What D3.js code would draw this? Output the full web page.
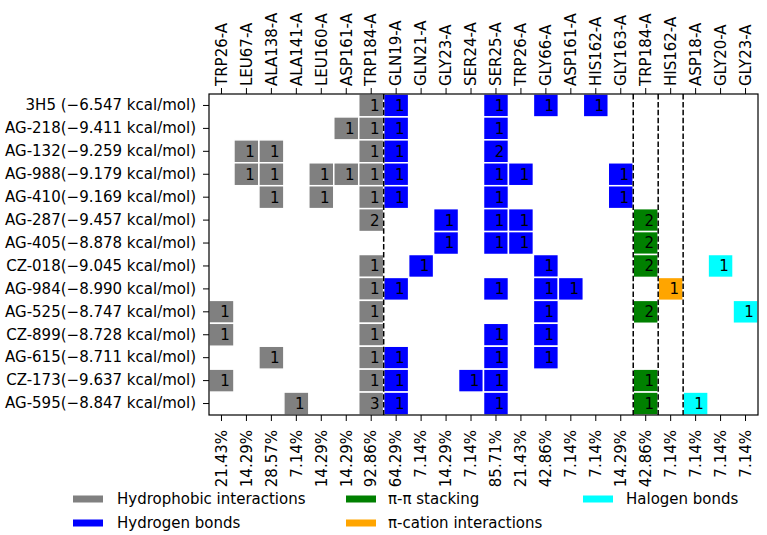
<!DOCTYPE html>
<html>
<head>
<meta charset="utf-8">
<script src="https://cdn.jsdelivr.net/npm/d3@7"></script>
<style>
  body { margin: 0; background: #fff; }
  svg text { font-family: "DejaVu Sans", sans-serif; fill: #000; }
</style>
</head>
<body>
<svg id="chart" width="767" height="535"></svg>
<script>
// residues (columns) and the interaction type of each column
const residues = [
  "TRP26-A", "LEU67-A", "ALA138-A", "ALA141-A", "LEU160-A", "ASP161-A", "TRP184-A",
  "GLN19-A", "GLN21-A", "GLY23-A", "SER24-A", "SER25-A", "TRP26-A", "GLY66-A", "ASP161-A", "HIS162-A", "GLY163-A",
  "TRP184-A", "HIS162-A", "ASP18-A", "GLY20-A", "GLY23-A"
];
const colTypes = [
  "hyd", "hyd", "hyd", "hyd", "hyd", "hyd", "hyd",
  "hb", "hb", "hb", "hb", "hb", "hb", "hb", "hb", "hb", "hb",
  "pipi", "pication", "hal", "hal", "hal"
];
const percents = [
  "21.43%", "14.29%", "28.57%", "7.14%", "14.29%", "14.29%", "92.86%",
  "64.29%", "7.14%", "14.29%", "7.14%", "85.71%", "21.43%", "42.86%", "7.14%", "7.14%", "14.29%",
  "42.86%", "7.14%", "7.14%", "7.14%", "7.14%"
];
const ligands = [
  "3H5 (\u22126.547 kcal/mol)", "AG-218(\u22129.411 kcal/mol)", "AG-132(\u22129.259 kcal/mol)",
  "AG-988(\u22129.179 kcal/mol)", "AG-410(\u22129.169 kcal/mol)", "AG-287(\u22129.457 kcal/mol)",
  "AG-405(\u22128.878 kcal/mol)", "CZ-018(\u22129.045 kcal/mol)", "AG-984(\u22128.990 kcal/mol)",
  "AG-525(\u22128.747 kcal/mol)", "CZ-899(\u22128.728 kcal/mol)", "AG-615(\u22128.711 kcal/mol)",
  "CZ-173(\u22129.637 kcal/mol)", "AG-595(\u22128.847 kcal/mol)"
];
// interaction counts, one row per ligand, one value per residue column
const counts = [
  [0,0,0,0,0,0,1, 1,0,0,0,1,0,1,0,1,0, 0,0, 0,0,0],
  [0,0,0,0,0,1,1, 1,0,0,0,1,0,0,0,0,0, 0,0, 0,0,0],
  [0,1,1,0,0,0,1, 1,0,0,0,2,0,0,0,0,0, 0,0, 0,0,0],
  [0,1,1,0,1,1,1, 1,0,0,0,1,1,0,0,0,1, 0,0, 0,0,0],
  [0,0,1,0,1,0,1, 1,0,0,0,1,0,0,0,0,1, 0,0, 0,0,0],
  [0,0,0,0,0,0,2, 0,0,1,0,1,1,0,0,0,0, 2,0, 0,0,0],
  [0,0,0,0,0,0,0, 0,0,1,0,1,1,0,0,0,0, 2,0, 0,0,0],
  [0,0,0,0,0,0,1, 0,1,0,0,0,0,1,0,0,0, 2,0, 0,1,0],
  [0,0,0,0,0,0,1, 1,0,0,0,1,0,1,1,0,0, 0,1, 0,0,0],
  [1,0,0,0,0,0,1, 0,0,0,0,0,0,1,0,0,0, 2,0, 0,0,1],
  [1,0,0,0,0,0,1, 0,0,0,0,1,0,1,0,0,0, 0,0, 0,0,0],
  [0,0,1,0,0,0,1, 1,0,0,0,1,0,1,0,0,0, 0,0, 0,0,0],
  [1,0,0,0,0,0,1, 1,0,0,1,1,0,0,0,0,0, 1,0, 0,0,0],
  [0,0,0,1,0,0,3, 1,0,0,0,1,0,0,0,0,0, 1,0, 1,0,0]
];
const typeKeys = ["hyd", "hb", "pipi", "pication", "hal"];
const typeNames = ["Hydrophobic interactions", "Hydrogen bonds", "\u03c0-\u03c0 stacking", "\u03c0-cation interactions", "Halogen bonds"];
const typeColors = ["#808080", "#0000ff", "#008000", "#ffa500", "#00ffff"];

const svg = d3.select("#chart");
const plot = { left: 209, right: 758, top: 94, bottom: 415 };
const fontSize = 15;

const color = d3.scaleOrdinal().domain(typeKeys).range(typeColors);
const x = d3.scaleBand().domain(d3.range(residues.length)).range([plot.left, plot.right]);
const y = d3.scaleBand().domain(d3.range(ligands.length)).range([plot.top, plot.bottom]);

const cells = [];
counts.forEach((row, r) => row.forEach((v, c) => {
  if (v > 0) cells.push({ r, c, v, type: colTypes[c] });
}));

// cells
const g = svg.append("g");
g.selectAll("rect.cell").data(cells).enter().append("rect")
  .attr("class", "cell")
  .attr("x", d => x(d.c))
  .attr("y", d => y(d.r))
  .attr("width", x.bandwidth())
  .attr("height", y.bandwidth())
  .attr("fill", d => color(d.type))
  .attr("stroke", "#fff")
  .attr("stroke-width", 1.5);

g.selectAll("text.val").data(cells).enter().append("text")
  .attr("class", "val")
  .attr("x", d => x(d.c) + x.bandwidth() / 2 + 3.5)
  .attr("y", d => y(d.r) + y.bandwidth() / 2)
  .attr("dy", "0.36em")
  .attr("text-anchor", "middle")
  .style("font-size", fontSize + "px")
  .text(d => d.v);

// dashed separators between interaction groups
const breaks = [];
colTypes.forEach((t, i) => { if (i > 0 && t !== colTypes[i - 1]) breaks.push(i); });
g.selectAll("line.sep").data(breaks).enter().append("line")
  .attr("class", "sep")
  .attr("x1", d => x(d)).attr("x2", d => x(d))
  .attr("y1", plot.top).attr("y2", plot.bottom)
  .attr("stroke", "#000")
  .attr("stroke-width", 1.5)
  .attr("stroke-dasharray", "5.5,2.4");

// frame
svg.append("rect")
  .attr("x", plot.left).attr("y", plot.top)
  .attr("width", plot.right - plot.left).attr("height", plot.bottom - plot.top)
  .attr("fill", "none").attr("stroke", "#000").attr("stroke-width", 1.2);

// axes
const topAxis = svg.append("g").attr("transform", `translate(0,${plot.top})`)
  .call(d3.axisTop(x).tickSize(6).tickSizeOuter(0).tickFormat(i => residues[i]));
topAxis.selectAll("text")
  .attr("x", 0).attr("y", 0).attr("dy", "0.35em")
  .attr("text-anchor", "start")
  .attr("transform", "translate(0,-8) rotate(-90)");

const bottomAxis = svg.append("g").attr("transform", `translate(0,${plot.bottom})`)
  .call(d3.axisBottom(x).tickSize(6).tickSizeOuter(0).tickFormat(i => percents[i]));
bottomAxis.selectAll("text")
  .attr("x", 0).attr("y", 0).attr("dy", "0.35em")
  .attr("text-anchor", "end")
  .attr("transform", "translate(0,15) rotate(-90)");

const leftAxis = svg.append("g").attr("transform", `translate(${plot.left},0)`)
  .call(d3.axisLeft(y).tickSize(6).tickSizeOuter(0).tickFormat(i => ligands[i]));
leftAxis.selectAll("text").attr("x", -13);

svg.selectAll(".domain").remove();
svg.selectAll(".tick line").attr("stroke", "#000").attr("stroke-width", 1);
svg.selectAll(".tick text").style("font-size", fontSize + "px").style("font-family", "DejaVu Sans, sans-serif").attr("fill", "#000");

// legend
const legendPos = [
  { sx: 73, tx: 117, y: 499 },
  { sx: 73, tx: 117, y: 523 },
  { sx: 346, tx: 388, y: 499 },
  { sx: 346, tx: 388, y: 523 },
  { sx: 583, tx: 626, y: 499 }
];
const legend = svg.append("g");
typeKeys.forEach((k, i) => {
  const p = legendPos[i];
  legend.append("rect")
    .attr("x", p.sx).attr("y", p.y - 3.5)
    .attr("width", 30).attr("height", 7)
    .attr("fill", color(k));
  legend.append("text")
    .attr("x", p.tx).attr("y", p.y).attr("dy", "0.35em")
    .style("font-size", fontSize + "px")
    .text(typeNames[i]);
});
</script>
</body>
</html>
